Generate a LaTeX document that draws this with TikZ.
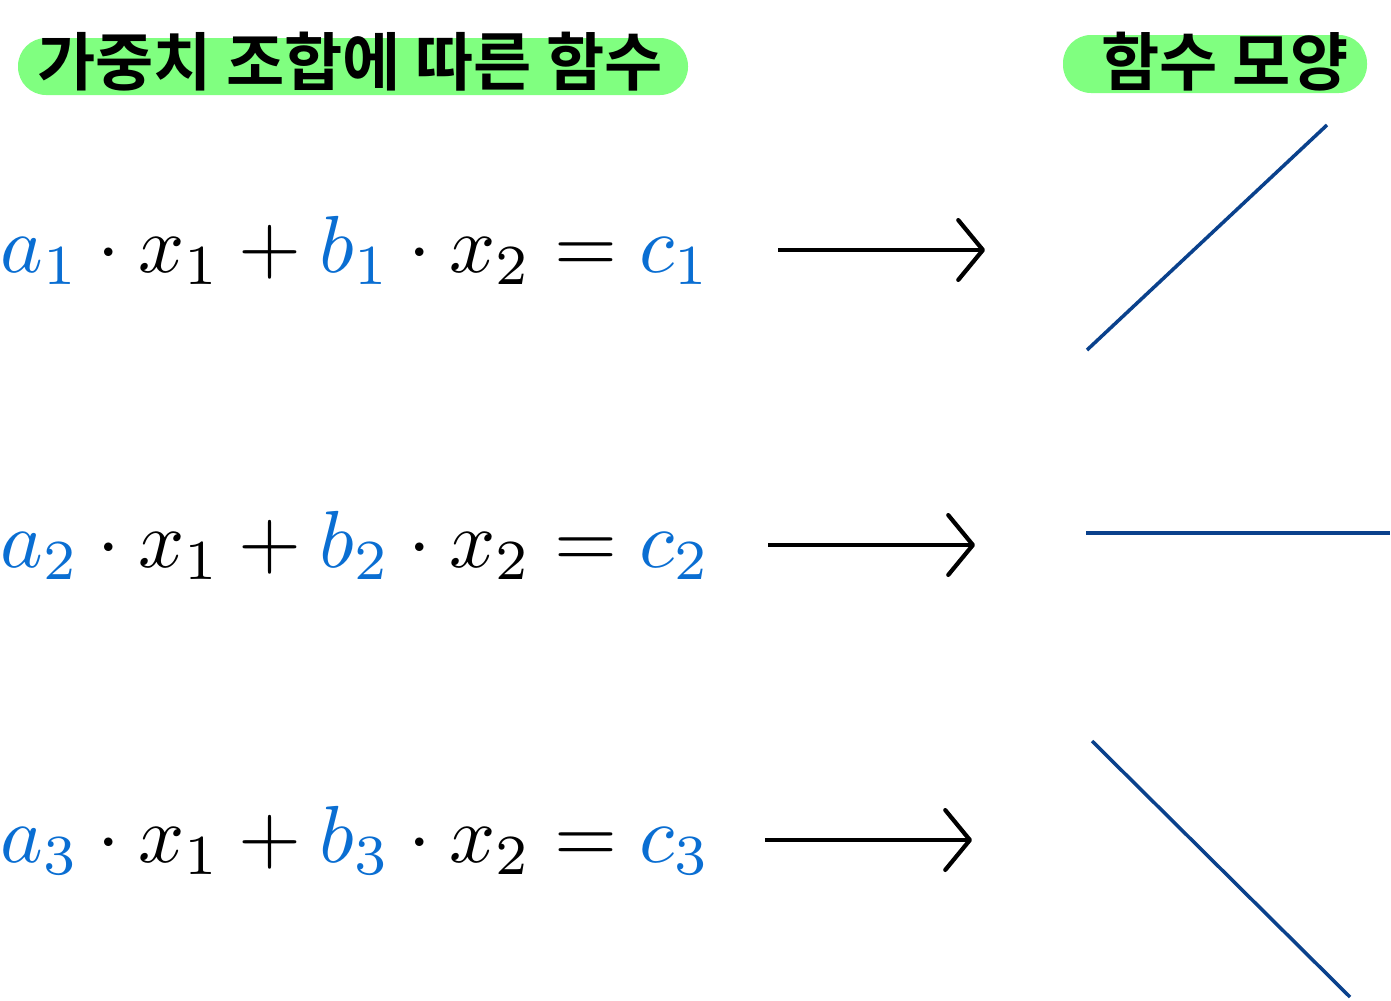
\documentclass[tikz,border=0pt]{standalone}
\usepackage{fontspec}
\usepackage{graphicx}
\newfontfamily\kr{Noto Sans CJK KR}[BoldFont={Noto Sans CJK KR Bold}]
\usetikzlibrary{arrows.meta}
\definecolor{hl}{RGB}{128,255,128}
\definecolor{wb}{RGB}{10,110,210}
\definecolor{ln}{RGB}{10,65,140}
\tikzset{
  hdrtxt/.style={font=\kr\bfseries\fontsize{18}{22}\selectfont,inner sep=0pt},
  eq/.style={anchor=west,inner sep=0pt},
  arr/.style={line width=1.2pt,-{Straight Barb[length=7pt,width=17pt,line width=1.2pt,round]}},
  fn/.style={ln,line width=1pt}
}
\newcommand{\wt}[1]{\textcolor{wb}{#1}}
\newcommand{\eqn}[1]{\resizebox{7.1cm}{!}{$\wt{a_{#1}}\cdot x_1+\wt{b_{#1}}\cdot x_2=\wt{c_{#1}}$}}
\begin{document}
\begin{tikzpicture}[x=0.01cm,y=-0.01cm]
\useasboundingbox (0,0) rectangle (1391,1000);
\fill[hl,rounded corners=0.28cm] (18,38) rectangle (688,95);
\fill[hl,rounded corners=0.28cm] (1063,35) rectangle (1367,93);
\node[hdrtxt] (h1) at (350,62) {가중치 조합에 따른 함수};
\node[hdrtxt] (h2) at (1225,62) {함수 모양};
\foreach \i/\y/\xs/\xe in {1/250/778/985, 2/545/768/975, 3/840/765/972}{
  \node[eq] (e\i) at (0,\y) {\eqn{\i}};
  \coordinate (s\i) at (\xs,\y);
  \coordinate (t\i) at (\xe,\y);
  \draw[arr] (s\i) -- (t\i);
}
\coordinate (p1) at (1087,350); \coordinate (q1) at (1327,125);
\coordinate (p2) at (1086,533); \coordinate (q2) at (1390,533);
\coordinate (p3) at (1092,741); \coordinate (q3) at (1350,997);
\draw[fn] (p1) -- (q1);
\draw[fn] (p2) -- (q2);
\draw[fn] (p3) -- (q3);
\end{tikzpicture}
\end{document}
